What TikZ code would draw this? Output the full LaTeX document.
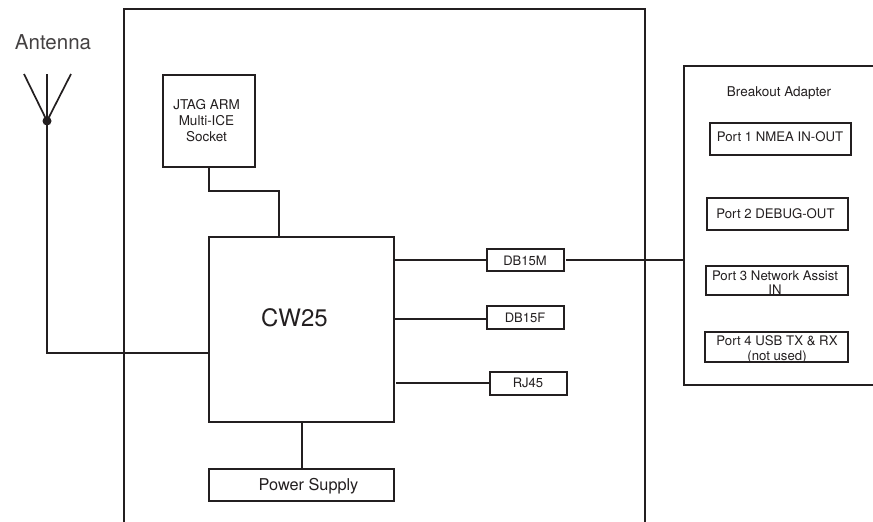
\documentclass[tikz,border=0pt]{standalone}
\usepackage{fontspec}
\setmainfont{TeX Gyre Heros}
\definecolor{ink}{HTML}{231F20}
\tikzset{
  wire/.style={draw=ink,line width=1.7pt},
  boxn/.style={draw=ink,line width=1.7pt,anchor=north west,inner sep=0pt,outer sep=0pt,fill=white},
  lab/.style={text=ink,inner sep=0pt,align=center},
}
\begin{document}
\begin{tikzpicture}[x=1pt,y=-1pt]
\useasboundingbox (0,0) rectangle (873,522);
% open outlines
\coordinate (mainbl) at (124,522);
\coordinate (maintl) at (124,9);
\coordinate (maintr) at (645,9);
\coordinate (mainbr) at (645,522);
\draw[wire] (mainbl) -- (maintl) -- (maintr) -- (mainbr);
\coordinate (brtr) at (873,66);
\coordinate (brtl) at (684,66);
\coordinate (brbl) at (684,385);
\coordinate (brbr) at (873,385);
\draw[wire] (brtr) -- (brtl) -- (brbl) -- (brbr);
% antenna
\node[lab,font=\fontsize{20.5}{24}\selectfont,text=ink!85] (anttext) at (53,42) {Antenna};
\node[circle,fill=ink,inner sep=0pt,minimum size=9pt] (hub) at (47,121) {};
\coordinate (antl) at (24,74);
\coordinate (antm) at (47,74);
\coordinate (antr) at (71,74);
\draw[wire] (antl) -- (hub.center);
\draw[wire] (antm) -- (hub.center);
\draw[wire] (antr) -- (hub.center);
% boxes
\node[boxn,minimum width=92pt,minimum height=92pt] (jtag) at (163,75) {};
\node[lab,font=\fontsize{13.5}{16}\selectfont] (jtagtext) at (206.5,121) {JTAG ARM\\Multi-ICE\\Socket};
\node[boxn,minimum width=185pt,minimum height=185pt] (cw) at (209,237) {};
\node[lab,font=\fontsize{24}{28}\selectfont] (cwtext) at (294.5,318) {CW25};
\node[boxn,minimum width=185pt,minimum height=32pt] (psu) at (209,469) {};
\node[lab,font=\fontsize{16.3}{18}\selectfont] (psutext) at (308.5,486) {Power Supply};
\node[boxn,minimum width=77pt,minimum height=22pt] (dbm) at (487,249) {};
\node[lab,font=\fontsize{13}{15}\selectfont] (dbmtext) at (525,260.5) {DB15M};
\node[boxn,minimum width=77pt,minimum height=23pt] (dbf) at (487,306) {};
\node[lab,font=\fontsize{13}{15}\selectfont] (dbftext) at (525,317.5) {DB15F};
\node[boxn,minimum width=77pt,minimum height=23pt] (rj) at (490,372) {};
\node[lab,font=\fontsize{13}{15}\selectfont] (rjtext) at (528,383) {RJ45};
% breakout
\node[lab,font=\fontsize{13.5}{15}\selectfont] (brtext) at (779,93) {Breakout Adapter};
\node[boxn,minimum width=141pt,minimum height=32pt] (p1) at (710,123) {};
\node[lab,font=\fontsize{13.2}{15}\selectfont] (p1text) at (780,137) {Port 1 NMEA IN-OUT};
\node[boxn,minimum width=141pt,minimum height=32pt] (p2) at (707,198) {};
\node[lab,font=\fontsize{13.2}{15}\selectfont] (p2text) at (775.5,214) {Port 2 DEBUG-OUT};
\node[boxn,minimum width=142pt,minimum height=29pt] (p3) at (706,266) {};
\node[lab,font=\fontsize{13.2}{13.5}\selectfont] (p3text) at (775,282.5) {Port 3 Network Assist\\IN};
\node[boxn,minimum width=143pt,minimum height=30pt] (p4) at (705,332) {};
\node[lab,font=\fontsize{13.2}{15}\selectfont] (p4text) at (777,349.5) {Port 4 USB TX \& RX\\(not used)};
% connectors
\coordinate (jtagdown) at (209,167);
\coordinate (cwup) at (279,237);
\draw[wire] (jtagdown) -- (209,191) -- (279,191) -- (cwup);
\draw[wire] (hub.center) -- (47,353) -- (cw.west |- 0,353);
\draw[wire] (cw.east |- dbm.west) -- (dbm.west);
\draw[wire] (dbm.east) ++(2,0) -- (brtl |- dbm.east);
\coordinate (dbfin) at (dbf.west |- 0,319);
\draw[wire] (cw.east |- dbfin) -- (dbfin);
\coordinate (rjout) at (396,383);
\draw[wire] (rjout) -- (rj.west |- rjout);
\draw[wire] (302,422) -- (302,469);
\end{tikzpicture}
\end{document}
